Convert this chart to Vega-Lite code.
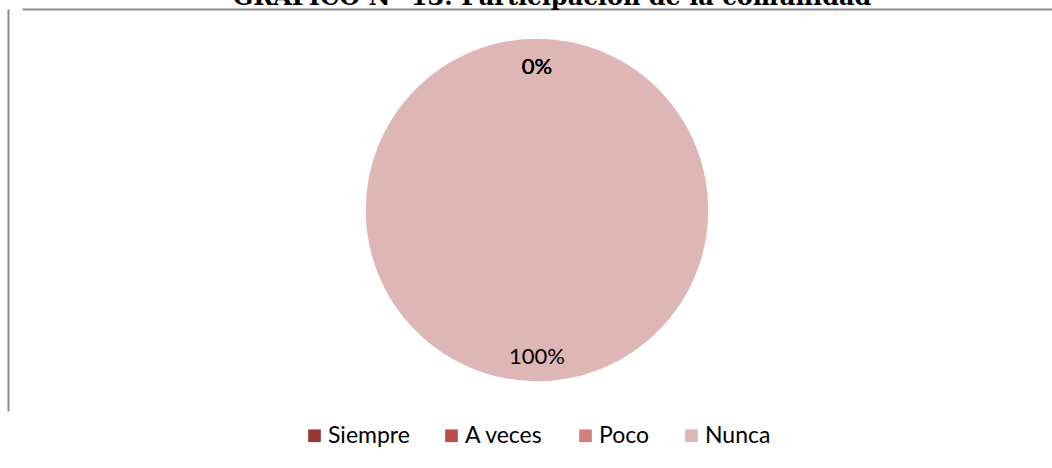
{
  "$schema": "https://vega.github.io/schema/vega-lite/v6.json",
  "autosize": "none",
  "padding": {"left": 22, "top": 9, "right": 0, "bottom": 57},
  "width": 1030,
  "height": 402,
  "background": "white",
  "title": {
    "text": "GRÁFICO N° 13: Participación de la comunidad",
    "font": "DejaVu Serif",
    "fontSize": 24,
    "fontWeight": "bold",
    "color": "black",
    "anchor": "middle",
    "baseline": "alphabetic",
    "offset": -23,
    "dx": 15
  },
  "data": {
    "values": [
      {"categoria": "Siempre", "valor": 0, "pct": 0},
      {"categoria": "A veces", "valor": 0, "pct": 0},
      {"categoria": "Poco", "valor": 0, "pct": 0},
      {"categoria": "Nunca", "valor": 100, "pct": 1}
    ]
  },
  "layer": [
    {
      "mark": {"type": "arc", "outerRadius": 172, "stroke": "white", "strokeWidth": 1.5},
      "encoding": {
        "theta": {"field": "valor", "type": "quantitative", "stack": true},
        "color": {
          "field": "categoria",
          "type": "nominal",
          "sort": ["Siempre", "A veces", "Poco", "Nunca"],
          "scale": {
            "domain": ["Siempre", "A veces", "Poco", "Nunca"],
            "range": ["#953735", "#BE4B48", "#D27F7E", "#DEB6B6"]
          },
          "legend": {
            "title": null,
            "orient": "bottom",
            "direction": "horizontal",
            "symbolType": "square",
            "symbolSize": 160,
            "symbolStrokeWidth": 0,
            "labelFont": "Lato",
            "labelFontSize": 23,
            "labelColor": "black",
            "columnPadding": 30,
            "labelOffset": 2,
            "offset": 13
          }
        }
      }
    },
    {
      "mark": {"type": "text", "radius": 145, "dy": 2, "font": "Lato", "fontSize": 22, "color": "black"},
      "encoding": {
        "theta": {"field": "valor", "type": "quantitative", "stack": true},
        "text": {"field": "pct", "type": "quantitative", "format": ".0%"}
      }
    },
    {
      "mark": {"type": "point", "opacity": 0},
      "encoding": {
        "x": {"datum": 0, "type": "quantitative", "axis": {"orient": "top", "domain": true, "domainColor": "#8c8c8c", "domainWidth": 2, "ticks": false, "labels": false, "grid": false, "title": null}},
        "y": {"datum": 0, "type": "quantitative", "axis": {"orient": "left", "offset": 14, "domain": true, "domainColor": "#8c8c8c", "domainWidth": 2, "ticks": false, "labels": false, "grid": false, "title": null}}
      }
    }
  ],
  "config": {
    "view": {"stroke": null},
    "legend": {"layout": {"bottom": {"anchor": "middle"}}}
  }
}
